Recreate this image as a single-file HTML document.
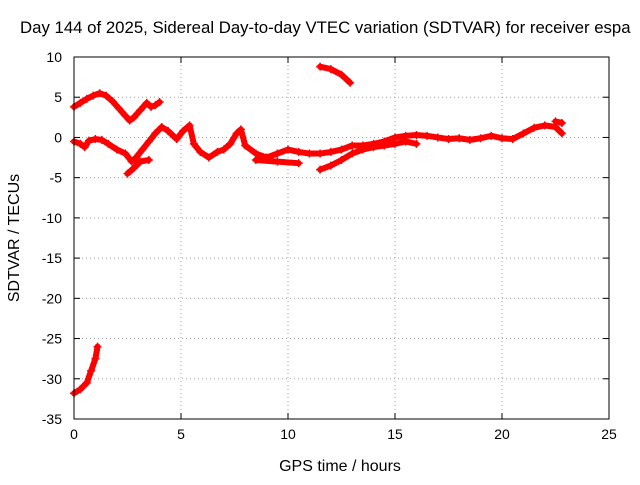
<!DOCTYPE html>
<html><head><meta charset="utf-8"><style>
body{margin:0;background:#fff}
svg text{font-family:"Liberation Sans",sans-serif;font-size:14px;fill:#000}
svg text.big{font-size:16px}
svg text.title{font-size:16.8px}
</style></head><body>
<svg width="640" height="480" xmlns="http://www.w3.org/2000/svg">
<text class="title" x="20" y="33">Day 144 of 2025, Sidereal Day-to-day VTEC variation (SDTVAR) for receiver espa</text>
<g id="grid"></g>
<g id="ticks"></g>
<g id="marks"></g>
<rect x="74" y="57" width="535" height="362" fill="none" stroke="#000"/>
<text class="big" x="19" y="238" transform="rotate(-90 19 238)" text-anchor="middle">SDTVAR / TECUs</text>
<text class="big" x="340" y="471" text-anchor="middle">GPS time / hours</text>
</svg>
<script>
const xTicks=[0,5,10,15,20,25];
const yTicks=[10,5,0,-5,-10,-15,-20,-25,-30,-35];
const trackA=[[0,3.8],[0.3,4.3],[0.6,4.8],[0.9,5.2],[1.2,5.5],[1.5,5.2],[1.8,4.5],[2.1,3.6],[2.4,2.7],[2.6,2.1],[2.8,2.5],[3.1,3.4],[3.4,4.3],[3.6,3.8],[3.8,4.0],[4.0,4.4]];
const trackB=[[0,-0.5],[0.3,-0.8],[0.5,-1.2],[0.7,-0.4],[1.0,-0.2],[1.3,-0.3],[1.6,-0.8],[2.0,-1.5],[2.4,-2.0],[2.7,-3.0],[2.9,-2.5],[3.2,-1.5],[3.5,-0.5],[3.8,0.5],[4.1,1.3],[4.4,0.8],[4.8,-0.2],[5.1,0.8],[5.4,1.5],[5.6,-0.8],[5.9,-1.8],[6.3,-2.5],[6.7,-1.8],[7.0,-1.5],[7.3,-0.8],[7.6,0.5],[7.8,1.0],[8.0,-1.0],[8.5,-2.0],[9.0,-2.5],[9.5,-2.0],[10.0,-1.5],[10.5,-1.8],[11.0,-2.0],[11.5,-2.0],[12.0,-1.8],[12.5,-1.5],[13.0,-1.0],[13.5,-1.0],[14.0,-0.8],[14.5,-0.5],[15.0,0],[15.5,0.2],[16,0.3],[16.5,0.2],[17,0],[17.5,-0.2],[18,-0.1],[18.5,-0.3],[19,-0.1],[19.5,0.2],[20,-0.1],[20.5,-0.2],[21,0.5],[21.5,1.2],[22,1.5],[22.5,1.3],[22.8,0.5]];
const trackB2=[[2.5,-4.5],[2.8,-3.8],[3.1,-3.0],[3.5,-2.8]];
const trackB3=[[8.5,-2.8],[9.5,-3.0],[10.5,-3.2]];
const trackB4=[[11.5,-4],[12,-3.5],[12.5,-2.8],[13,-2],[13.5,-1.5],[14,-1.2],[14.5,-1],[15,-0.8],[15.5,-0.5],[16,-0.8]];
const trackB5=[[22.5,2],[22.8,1.8]];
const trackC=[[11.5,8.8],[12,8.5],[12.5,7.8],[12.9,6.8]];
const trackD=[[0,-31.8],[0.3,-31.3],[0.6,-30.5],[0.8,-29],[1.0,-27.5],[1.1,-26]];
const X0=74,X1=609,Y0=57,Y1=419;
const sx=v=>X0+(v-0)/(25-0)*(X1-X0);
const sy=v=>Y0+(10-v)/(10+35)*(Y1-Y0);
const NS="http://www.w3.org/2000/svg";
const grid=document.getElementById('grid'),ticks=document.getElementById('ticks'),marks=document.getElementById('marks');
function mk(t,a,p){const e=document.createElementNS(NS,t);for(const k in a)e.setAttribute(k,a[k]);p.appendChild(e);return e;}
xTicks.forEach(v=>{const x=sx(v);
 if(v>0&&v<25){const g=mk('line',{x1:x,x2:x,y1:Y0,y2:Y1,stroke:'#a0a0a0','stroke-dasharray':'1,3'},grid);
 
 }
 mk('line',{x1:x,x2:x,y1:Y1,y2:Y1-6,stroke:'#000'},ticks);mk('line',{x1:x,x2:x,y1:Y0,y2:Y0+6,stroke:'#000'},ticks);
 const t=mk('text',{x:x,y:Y1+20,'text-anchor':'middle'},ticks);t.textContent=v;
 
 });
yTicks.forEach(v=>{const y=sy(v);
 if(v<10&&v>-35){const g=mk('line',{x1:X0,x2:X1,y1:y,y2:y,stroke:'#a0a0a0','stroke-dasharray':'1,3'},grid);
 
 }
 mk('line',{x1:X0,x2:X0+6,y1:y,y2:y,stroke:'#000'},ticks);mk('line',{x1:X1,x2:X1-6,y1:y,y2:y,stroke:'#000'},ticks);
 const t=mk('text',{x:X0-12,y:y+5,'text-anchor':'end'},ticks);t.textContent=v;
 
 });
[trackA,trackB,trackB2,trackB3,trackB4,trackB5,trackC,trackD].forEach((tr,i)=>{
 const p=mk('polyline',{points:tr.map(d=>sx(d[0])+','+sy(d[1])).join(' '),fill:'none',stroke:'#ff0000','stroke-width':6,'stroke-linejoin':'round','stroke-linecap':'round'},marks);
 
 
 tr.forEach(d=>{const x=sx(d[0]),y=sy(d[1]);
  const m=mk('path',{d:`M${x-4},${y}H${x+4}M${x},${y-4}V${y+4}`,stroke:'#ff0000','stroke-width':1.5},marks);
  
  });
});
</script>
</body></html>
